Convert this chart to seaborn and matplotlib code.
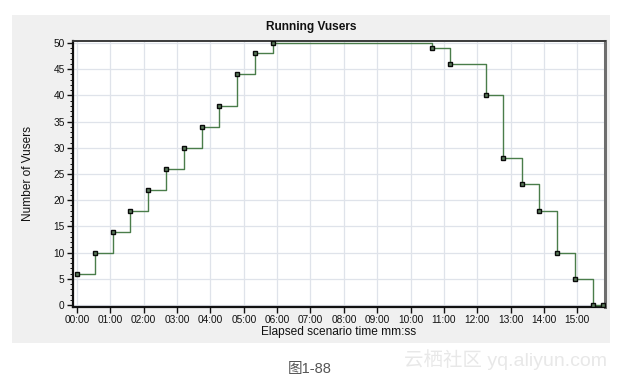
import matplotlib
matplotlib.use("Agg")
import matplotlib.pyplot as plt
import matplotlib.patches as mpatches
from matplotlib.ticker import MultipleLocator, FixedLocator
import seaborn as sns
import pandas as pd

# Running Vusers over the scenario (elapsed seconds, active users)
elapsed_sec = [0, 32, 64, 96, 128, 160, 192, 224, 256, 288, 320, 352,
               638, 671, 736, 767, 800, 831, 863, 896, 928, 946]
vusers = [6, 10, 14, 18, 22, 26, 30, 34, 38, 44, 48, 50,
          49, 46, 40, 28, 23, 18, 10, 5, 0, 0]

x_tick_minutes = list(range(16))
x_tick_labels = ["00:00", "01:00", "02:00", "03:00", "04:00", "05:00", "06:00", "07:00",
                 "08:00", "09:00", "10:00", "11:00", "12:00", "13:00", "14:00", "15:00"]
y_ticks = [0, 5, 10, 15, 20, 25, 30, 35, 40, 45, 50]

title = "Running Vusers"
x_label = "Elapsed scenario time mm:ss"
y_label = "Number of Vusers"
caption = "图1-88"
watermark = "云栖社区 yq.aliyun.com"

sns.set_theme(style="white")
plt.rcParams["font.family"] = ["Liberation Sans", "Noto Sans CJK SC", "DejaVu Sans"]

df = pd.DataFrame({"minutes": [s / 60 for s in elapsed_sec], "vusers": vusers})

fig = plt.figure(figsize=(6.17, 3.81), dpi=100)
fig.patch.set_facecolor("white")

# light gray chart panel behind the plot area
panel = mpatches.Rectangle((12 / 617, 1 - 343 / 381), 598 / 617, 328 / 381,
                           transform=fig.transFigure, facecolor="#f0f0f0",
                           edgecolor="none", zorder=-5)
fig.patches.append(panel)

ax = fig.add_axes([73 / 617, 1 - 306.5 / 381, 532 / 617, 265.5 / 381])
ax.set_zorder(2)
ax.set_facecolor("white")

sns.lineplot(data=df, x="minutes", y="vusers", ax=ax, drawstyle="steps-post",
             color="#4a7d4a", linewidth=1.0, marker="s", markersize=2.8,
             markerfacecolor="#5a7a5a", markeredgecolor="#0a0a0a",
             markeredgewidth=1.0, zorder=3)

ax.set_xlim(-0.12, 15.83)
ax.set_ylim(-0.29, 50.38)

ax.xaxis.set_major_locator(FixedLocator(x_tick_minutes))
ax.set_xticklabels(x_tick_labels)
ax.yaxis.set_major_locator(FixedLocator(y_ticks))
ax.yaxis.set_minor_locator(MultipleLocator(1))

ax.grid(True, which="major", color="#dfe3ea", linewidth=0.9)
ax.set_axisbelow(True)

ax.tick_params(axis="both", which="major", labelsize=7.3, colors="#111111",
               length=4, width=1.0, direction="out", pad=2, left=True, bottom=True)
ax.tick_params(axis="y", which="minor", length=2, width=0.7, color="#111111", left=True)

for side in ("left", "bottom"):
    ax.spines[side].set_color("#111111")
    ax.spines[side].set_linewidth(1.6)
ax.spines["top"].set_color("#3a3a3a")
ax.spines["top"].set_linewidth(1.4)
ax.spines["right"].set_color("#6e6e6e")
ax.spines["right"].set_linewidth(2.2)

ax.set_xlabel(x_label, fontsize=8.6, color="#111111", labelpad=1)
ax.set_ylabel(y_label, fontsize=8.6, color="#111111", labelpad=14)

fig.text(311 / 617, 1 - 27 / 381, title, ha="center", va="center",
         fontsize=8.6, fontweight="bold", color="#111111")
fig.text(310 / 617, 1 - 369 / 381, caption, ha="center", va="center",
         fontsize=10.5, color="#555555")
fig.text(505 / 617, 1 - 360 / 381, watermark, ha="center", va="center",
         fontsize=14, color="#e8e8e8")

fig.savefig("out.png", dpi=100, facecolor="white")
